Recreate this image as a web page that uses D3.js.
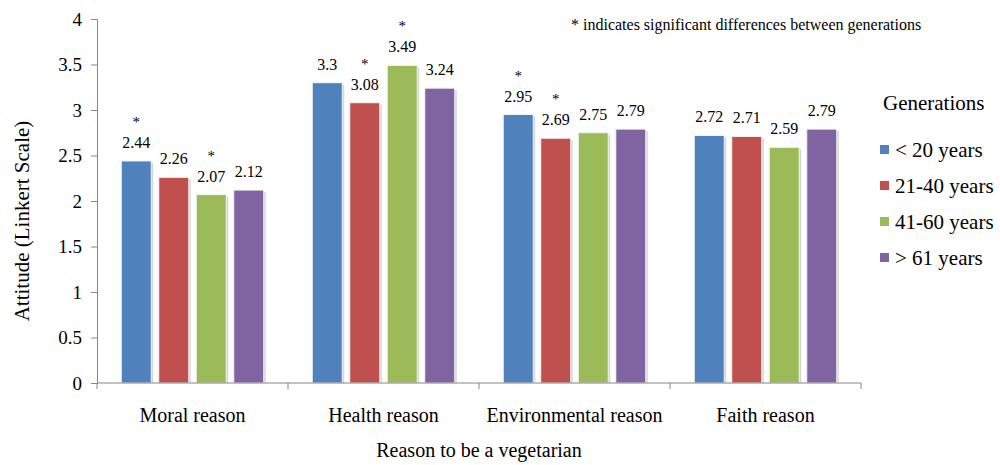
<!DOCTYPE html>
<html>
<head>
<meta charset="utf-8">
<script src="https://cdn.jsdelivr.net/npm/d3@7/dist/d3.min.js"></script>
<style>
  html, body { margin: 0; padding: 0; background: #fff; }
  svg { display: block; }
  svg text { font-family: "Liberation Serif", "Times New Roman", serif !important; }
</style>
</head>
<body>
<svg id="chart" width="1000" height="465"></svg>
<script>
const categories = ["Moral reason", "Health reason", "Environmental reason", "Faith reason"];
const seriesNames = ["< 20 years", "21-40 years", "41-60 years", "> 61 years"];
const seriesColors = ["#4F81BD", "#C0504D", "#9BBB59", "#8064A2"];
const under20 = [2.44, 3.3, 2.95, 2.72];
const age21to40 = [2.26, 3.08, 2.69, 2.71];
const age41to60 = [2.07, 3.49, 2.75, 2.59];
const over61 = [2.12, 3.24, 2.79, 2.79];
const significant = [
  [true, false, true, false],
  [false, true, true, false],
  [true, true, false, false],
  [false, false, false, false]
];
const yTicks = [0, 0.5, 1, 1.5, 2, 2.5, 3, 3.5, 4];

const seriesValues = [under20, age21to40, age41to60, over61];

const FONT = "Liberation Serif";
const svg = d3.select("#chart");
const plotLeft = 97, plotRight = 861, plotTop = 19, plotBottom = 383;
const axisColor = "#868686";

const x0 = d3.scaleBand().domain(categories).range([plotLeft, plotRight]).padding(0);
const x1 = d3.scaleBand().domain(seriesNames)
  .range([20.5, x0.bandwidth() - 20.5]).paddingInner(0.2).paddingOuter(0.1);
const y = d3.scaleLinear().domain([0, 4]).range([plotBottom, plotTop]);

// bars
categories.forEach((cat, ci) => {
  const g = svg.append("g");
  seriesNames.forEach((s, si) => {
    const v = seriesValues[si][ci];
    const bx = x0(cat) + x1(s);
    const bw = x1.bandwidth();
    g.append("rect")
      .attr("x", bx + 2).attr("y", y(v) + 2)
      .attr("width", bw).attr("height", plotBottom - y(v) - 2)
      .attr("fill", "#d6d6d6");
    g.append("rect")
      .attr("x", bx).attr("y", y(v))
      .attr("width", bw).attr("height", plotBottom - y(v))
      .attr("fill", seriesColors[si])
      .attr("stroke", "#f4f4f4").attr("stroke-width", 1);
    const cx = bx + bw / 2;
    g.append("text")
      .attr("x", cx).attr("y", y(v) - 13)
      .attr("text-anchor", "middle").attr("font-family", FONT)
      .attr("font-size", 16).attr("fill", "#000")
      .text(String(v));
    if (significant[si][ci]) {
      g.append("text")
        .attr("x", cx).attr("y", y(v) - 34)
        .attr("text-anchor", "middle").attr("font-family", FONT)
        .attr("font-size", 15).attr("fill", "#000")
        .text("*");
    }
  });
});

// y axis
const yAxis = d3.axisLeft(y).tickValues(yTicks).tickSize(6).tickPadding(9)
  .tickFormat(d => String(d));
const yg = svg.append("g").attr("transform", `translate(${plotLeft},0)`).call(yAxis)
  .attr("font-family", FONT);
yg.select(".domain").attr("stroke", axisColor);
yg.selectAll(".tick line").attr("stroke", axisColor);
yg.selectAll(".tick text").attr("font-size", 19).attr("fill", "#000")
  .attr("font-family", FONT);

// x axis
const xg = svg.append("g").attr("transform", `translate(0,${plotBottom})`);
xg.append("line").attr("x1", plotLeft).attr("x2", plotRight).attr("y1", 0).attr("y2", 0)
  .attr("stroke", axisColor);
const boundaries = categories.map(c => x0(c)).concat([x0(categories[categories.length - 1]) + x0.bandwidth()]);
boundaries.forEach(b => {
  xg.append("line").attr("x1", b).attr("x2", b).attr("y1", 0).attr("y2", 6)
    .attr("stroke", axisColor);
});
categories.forEach(c => {
  xg.append("text")
    .attr("x", x0(c) + x0.bandwidth() / 2).attr("y", 39)
    .attr("text-anchor", "middle").attr("font-family", FONT)
    .attr("font-size", 20).attr("fill", "#000")
    .text(c);
});

// axis titles
svg.append("text")
  .attr("x", (plotLeft + plotRight) / 2).attr("y", 457)
  .attr("text-anchor", "middle").attr("font-family", FONT)
  .attr("font-size", 20).attr("fill", "#000")
  .text("Reason to be a vegetarian");
svg.append("text")
  .attr("transform", `translate(29,${(plotTop + plotBottom) / 2 + 20}) rotate(-90)`)
  .attr("text-anchor", "middle").attr("font-family", FONT)
  .attr("font-size", 21).attr("fill", "#000")
  .text("Attitude (Linkert Scale)");

// annotation
svg.append("text")
  .attr("x", 571).attr("y", 30).attr("font-family", FONT)
  .attr("font-size", 16).attr("fill", "#000")
  .text("* indicates significant differences between generations");

// legend
svg.append("text")
  .attr("x", 883).attr("y", 110).attr("font-family", FONT)
  .attr("font-size", 21).attr("fill", "#000")
  .text("Generations");
seriesNames.forEach((s, i) => {
  const ly = 150 + i * 36;
  svg.append("rect")
    .attr("x", 880).attr("y", ly - 5)
    .attr("width", 9).attr("height", 9)
    .attr("fill", seriesColors[i]);
  svg.append("text")
    .attr("x", 895).attr("y", ly + 7).attr("font-family", FONT)
    .attr("font-size", 21).attr("fill", "#000")
    .text(s);
});
</script>
</body>
</html>
